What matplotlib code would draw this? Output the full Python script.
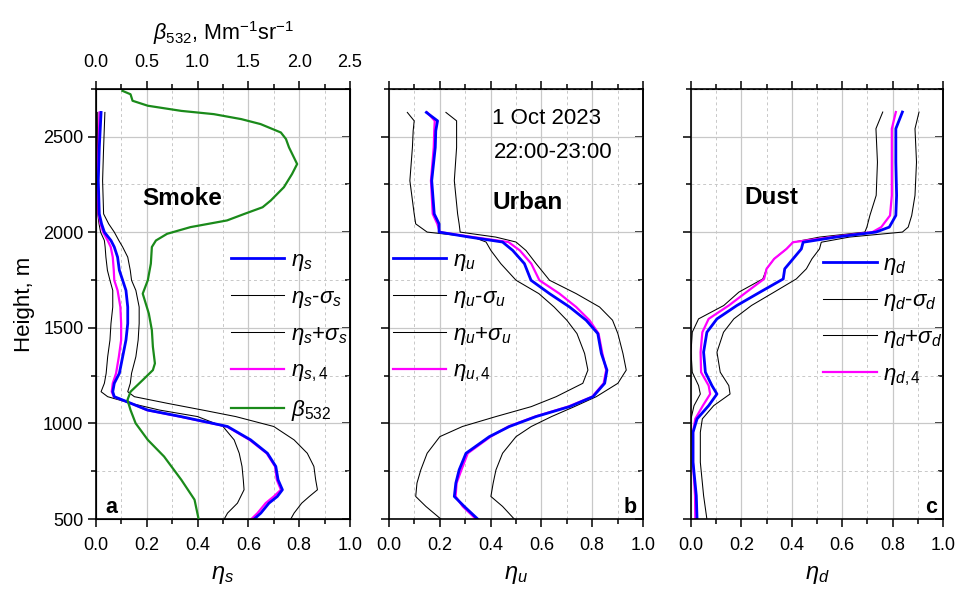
import matplotlib
matplotlib.use("Agg")
import matplotlib.pyplot as plt
from matplotlib.ticker import MultipleLocator
from matplotlib.lines import Line2D

plt.rcParams['font.family'] = ['Liberation Sans', 'DejaVu Sans']
plt.rcParams['mathtext.fontset'] = 'custom'
plt.rcParams['mathtext.rm'] = 'Liberation Sans'
plt.rcParams['mathtext.it'] = 'Liberation Sans:italic'
plt.rcParams['mathtext.bf'] = 'Liberation Sans:bold'

# ---------------- Panel a: Smoke ----------------
h_beta = [2740, 2722, 2688, 2662, 2635, 2618, 2592, 2566, 2522, 2488, 2444, 2357, 2305,
          2236, 2166, 2131, 2096, 2062, 2027, 1992, 1957, 1923, 1836, 1749, 1679, 1575,
          1488, 1401, 1314, 1279, 1227, 1166, 1123, 1070, 1001, 914, 827, 705, 601, 500]
beta532 = [0.26, 0.34, 0.36, 0.51, 0.84, 1.16, 1.43, 1.62, 1.82, 1.87, 1.90, 1.98, 1.93,
           1.85, 1.72, 1.64, 1.46, 1.29, 0.93, 0.70, 0.59, 0.55, 0.54, 0.51, 0.46, 0.52,
           0.55, 0.56, 0.58, 0.56, 0.46, 0.34, 0.31, 0.34, 0.39, 0.51, 0.67, 0.84, 0.97, 1.01]

h_s = [2627, 2444, 2270, 2096, 2044, 2001, 1957, 1923, 1870, 1801, 1749, 1696, 1609, 1523,
       1436, 1349, 1262, 1210, 1166, 1140, 1105, 1070, 1036, 984, 914, 844, 775, 705, 653,
       618, 583, 531, 500]
eta_s = [0.020, 0.013, 0.009, 0.013, 0.022, 0.033, 0.059, 0.072, 0.085, 0.092, 0.105, 0.118,
         0.125, 0.125, 0.118, 0.105, 0.092, 0.072, 0.066, 0.072, 0.138, 0.203, 0.334, 0.518,
         0.609, 0.675, 0.708, 0.717, 0.734, 0.714, 0.681, 0.649, 0.623]
eta_s4 = [0.014, 0.010, 0.007, 0.010, 0.018, 0.028, 0.046, 0.058, 0.066, 0.070, 0.072, 0.085,
          0.096, 0.099, 0.099, 0.090, 0.079, 0.066, 0.062, 0.070, 0.138, 0.200, 0.330, 0.515,
          0.605, 0.672, 0.705, 0.712, 0.728, 0.700, 0.668, 0.636, 0.612]
eta_s_lo = [0.007, 0.006, 0.004, 0.007, 0.012, 0.018, 0.033, 0.036, 0.039, 0.045, 0.055,
            0.066, 0.066, 0.059, 0.055, 0.046, 0.040, 0.033, 0.020, 0.046, 0.138, 0.250,
            0.400, 0.500, 0.544, 0.564, 0.575, 0.580, 0.583, 0.570, 0.557, 0.518, 0.505]
eta_s_hi = [0.035, 0.030, 0.026, 0.030, 0.050, 0.072, 0.090, 0.105, 0.125, 0.135, 0.140,
            0.157, 0.170, 0.170, 0.166, 0.157, 0.140, 0.135, 0.125, 0.151, 0.282, 0.420,
            0.550, 0.700, 0.780, 0.832, 0.858, 0.865, 0.872, 0.840, 0.810, 0.780, 0.767]

# ---------------- Panel b: Urban ----------------
h_u = [2627, 2583, 2531, 2444, 2270, 2096, 2044, 2001, 1975, 1949, 1905, 1836, 1749, 1679,
       1609, 1540, 1470, 1366, 1279, 1210, 1140, 1088, 1036, 984, 931, 844, 757, 688, 618,
       566, 500]
eta_u = [0.147, 0.191, 0.184, 0.182, 0.168, 0.178, 0.197, 0.197, 0.316, 0.447, 0.487, 0.533,
         0.559, 0.632, 0.711, 0.776, 0.822, 0.836, 0.858, 0.849, 0.803, 0.711, 0.579, 0.474,
         0.395, 0.303, 0.276, 0.263, 0.257, 0.296, 0.349]
eta_u4 = [0.150, 0.180, 0.178, 0.176, 0.165, 0.172, 0.190, 0.200, 0.330, 0.470, 0.515, 0.560,
          0.592, 0.671, 0.737, 0.789, 0.825, 0.840, 0.855, 0.845, 0.800, 0.705, 0.575, 0.470,
          0.400, 0.310, 0.285, 0.266, 0.262, 0.290, 0.342]
eta_u_lo = [0.072, 0.099, 0.095, 0.092, 0.082, 0.099, 0.105, 0.150, 0.330, 0.382, 0.401,
            0.440, 0.500, 0.590, 0.650, 0.700, 0.740, 0.770, 0.783, 0.763, 0.658, 0.560,
            0.421, 0.289, 0.200, 0.150, 0.125, 0.110, 0.105, 0.145, 0.204]
eta_u_hi = [0.224, 0.266, 0.266, 0.266, 0.257, 0.270, 0.276, 0.280, 0.420, 0.500, 0.539,
            0.579, 0.632, 0.737, 0.829, 0.880, 0.901, 0.921, 0.934, 0.901, 0.816, 0.730,
            0.640, 0.560, 0.500, 0.447, 0.421, 0.410, 0.401, 0.447, 0.493]

# ---------------- Panel c: Dust ----------------
h_d = [2629, 2542, 2367, 2193, 2088, 2027, 2001, 1975, 1948, 1913, 1861, 1809, 1756, 1687,
       1617, 1547, 1477, 1373, 1268, 1198, 1154, 1093, 1024, 954, 797, 622, 500]
eta_d = [0.839, 0.813, 0.813, 0.816, 0.813, 0.787, 0.734, 0.576, 0.445, 0.438, 0.405, 0.372,
         0.366, 0.274, 0.182, 0.103, 0.063, 0.050, 0.057, 0.083, 0.103, 0.070, 0.024, 0.008,
         0.008, 0.021, 0.024]
eta_d4 = [0.813, 0.797, 0.797, 0.797, 0.790, 0.755, 0.720, 0.560, 0.405, 0.379, 0.330, 0.300,
          0.290, 0.220, 0.150, 0.070, 0.045, 0.038, 0.040, 0.070, 0.076, 0.047, 0.017, 0.008,
          0.008, 0.016, 0.017]
eta_d_lo = [0.761, 0.734, 0.740, 0.735, 0.710, 0.698, 0.690, 0.511, 0.405, 0.379, 0.330,
            0.300, 0.285, 0.190, 0.130, 0.030, 0.005, 0.000, 0.005, 0.030, 0.037, 0.012,
            0.000, 0.000, -0.004, -0.006, -0.008]
eta_d_hi = [0.905, 0.889, 0.895, 0.889, 0.876, 0.862, 0.839, 0.629, 0.517, 0.510, 0.480,
            0.458, 0.418, 0.330, 0.240, 0.170, 0.129, 0.103, 0.116, 0.150, 0.155, 0.090,
            0.045, 0.037, 0.037, 0.050, 0.063]

x_ticks = [0.0, 0.2, 0.4, 0.6, 0.8, 1.0]
x_ticklabels = ['0.0', '0.2', '0.4', '0.6', '0.8', '1.0']
beta_ticks = [0.0, 0.5, 1.0, 1.5, 2.0, 2.5]
beta_ticklabels = ['0.0', '0.5', '1.0', '1.5', '2.0', '2.5']

BLUE = '#0000ff'
MAG = '#ff00ff'
GREEN = '#1a8a1a'
LW_B, LW_M, LW_K, LW_G = 2.0, 1.6, 0.75, 1.6
TICK_FS = 13

fig = plt.figure(figsize=(9.58, 5.90), dpi=100)
bottom, height = 0.1203, 0.729
axa = fig.add_axes([0.1002, bottom, 0.2651, height])
axb = fig.add_axes([0.4061, bottom, 0.2651, height])
axc = fig.add_axes([0.7213, bottom, 0.2630, height])


def style(ax, labels_left):
    ax.set_xlim(0, 1.0)
    ax.set_ylim(500, 2750)
    ax.xaxis.set_minor_locator(MultipleLocator(0.1))
    ax.yaxis.set_major_locator(MultipleLocator(500))
    ax.yaxis.set_minor_locator(MultipleLocator(250))
    ax.set_xticks(x_ticks)
    ax.set_xticklabels(x_ticklabels)
    ax.grid(which='major', color='#c8c8c8', lw=0.9, ls='-')
    ax.grid(which='minor', color='#c8c8c8', lw=0.7, ls=(0, (3, 3)))
    ax.set_axisbelow(True)
    for s in ax.spines.values():
        s.set_linewidth(1.2)
    ax.tick_params(axis='x', which='both', direction='out', top=False, labelsize=TICK_FS, width=1.1)
    ax.tick_params(axis='x', which='major', length=6, pad=7)
    ax.tick_params(axis='x', which='minor', length=3.5)
    ax.tick_params(axis='y', which='both', direction='out', right=False, labelsize=TICK_FS,
                   labelleft=labels_left, width=1.1)
    ax.tick_params(axis='y', which='major', length=6, pad=3)
    ax.tick_params(axis='y', which='minor', length=3.5)
    r = ax.secondary_yaxis('right')
    r.yaxis.set_major_locator(MultipleLocator(500))
    r.yaxis.set_minor_locator(MultipleLocator(250))
    r.tick_params(which='both', direction='in', labelright=False, width=1.1)
    r.tick_params(which='major', length=6)
    r.tick_params(which='minor', length=3.5)
    r.spines['right'].set_linewidth(1.2)


def draw(ax, h, mid, m4, lo, hi):
    ax.plot(lo, h, color='black', lw=LW_K)
    ax.plot(hi, h, color='black', lw=LW_K)
    ax.plot(m4, h, color=MAG, lw=LW_M)
    ax.plot(mid, h, color=BLUE, lw=LW_B)


style(axa, True)
style(axb, False)
style(axc, False)

draw(axa, h_s, eta_s, eta_s4, eta_s_lo, eta_s_hi)
draw(axb, h_u, eta_u, eta_u4, eta_u_lo, eta_u_hi)
draw(axc, h_d, eta_d, eta_d4, eta_d_lo, eta_d_hi)

# top axis for panel a (beta532)
axt = axa.twiny()
axt.set_xlim(0, 2.5)
axt.set_xticks(beta_ticks)
axt.set_xticklabels(beta_ticklabels)
axt.xaxis.set_minor_locator(MultipleLocator(0.25))
axt.tick_params(which='both', direction='out', labelsize=TICK_FS, width=1.1)
axt.tick_params(which='major', length=6, pad=7)
axt.tick_params(which='minor', length=3.5)
axt.plot(beta532, h_beta, color=GREEN, lw=LW_G)
axt.set_xlabel(r'$\beta_{\mathit{532}}$, Mm$^{\mathregular{-1}}$sr$^{\mathregular{-1}}$',
               fontsize=15.5, labelpad=10)

# top ticks for b and c
for ax in (axb, axc):
    t = ax.secondary_xaxis('top')
    t.xaxis.set_major_locator(MultipleLocator(0.2))
    t.xaxis.set_minor_locator(MultipleLocator(0.1))
    t.tick_params(which='both', direction='out', labeltop=False, width=1.1)
    t.tick_params(which='major', length=6)
    t.tick_params(which='minor', length=3.5)

axa.set_ylabel('Height, m', fontsize=16, labelpad=6)
axa.set_xlabel(r'$\eta_s$', fontsize=17, labelpad=7)
axb.set_xlabel(r'$\eta_u$', fontsize=17, labelpad=7)
axc.set_xlabel(r'$\eta_d$', fontsize=17, labelpad=7)

# Panel texts
axa.text(0.34, 2175, 'Smoke', fontsize=17.5, fontweight='bold', ha='center', va='center')
axb.text(0.546, 2157, 'Urban', fontsize=17.5, fontweight='bold', ha='center', va='center')
axc.text(0.32, 2184, 'Dust', fontsize=17.5, fontweight='bold', ha='center', va='center')
axb.text(0.62, 2593, '1 Oct 2023', fontsize=16, ha='center', va='center')
axb.text(0.645, 2418, '22:00-23:00', fontsize=16, ha='center', va='center')
axa.text(0.035, 562, 'a', fontsize=15.5, fontweight='bold', ha='left', va='center')
axb.text(0.975, 562, 'b', fontsize=15.5, fontweight='bold', ha='right', va='center')
axc.text(0.975, 562, 'c', fontsize=15.5, fontweight='bold', ha='right', va='center')


def legend(ax, sub, anchor, extra=None):
    handles = [Line2D([], [], color=BLUE, lw=LW_B),
               Line2D([], [], color='black', lw=LW_K),
               Line2D([], [], color='black', lw=LW_K),
               Line2D([], [], color=MAG, lw=LW_M)]
    labels = [r'$\eta_%s$' % sub, r'$\eta_%s$-$\sigma_%s$' % (sub, sub),
              r'$\eta_%s$+$\sigma_%s$' % (sub, sub), r'$\eta_{%s,\mathit{4}}$' % sub]
    if extra:
        handles.append(Line2D([], [], color=GREEN, lw=LW_G))
        labels.append(extra)
    leg = ax.legend(handles, labels, loc='upper left', bbox_to_anchor=anchor,
                    frameon=False, fontsize=16, handlelength=2.4, handletextpad=0.3,
                    labelspacing=0.62, borderaxespad=0, borderpad=0)
    leg.set_zorder(5)
    return leg


legend(axa, 's', (0.53, 0.625), extra=r'$\beta_{\mathit{532}}$')
legend(axb, 'u', (0.015, 0.625))
legend(axc, 'd', (0.525, 0.617))

fig.savefig('out.png', dpi=100)
